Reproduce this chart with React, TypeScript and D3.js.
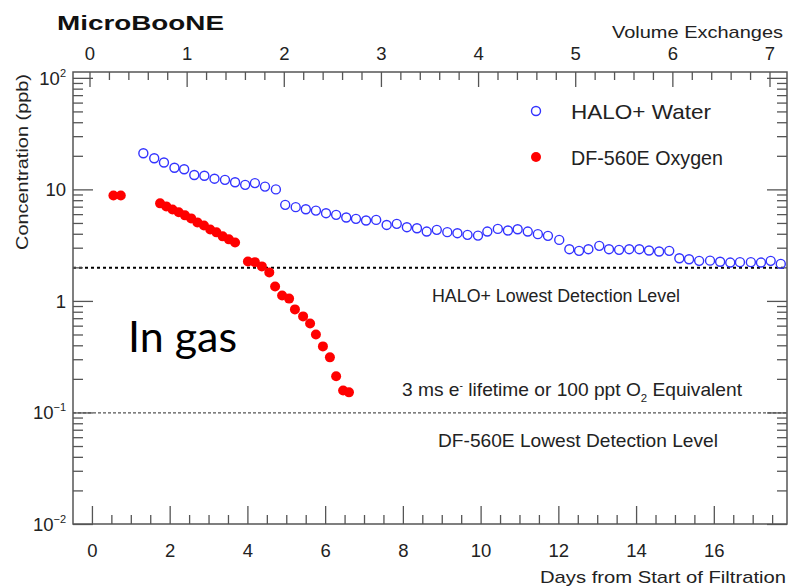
import React from 'react';
import * as d3 from 'd3';

// HALO+ water measurement (ppb) vs days from start of filtration
const haloDays = [
  1.31, 1.59, 1.84, 2.11, 2.36, 2.62, 2.88, 3.14, 3.41, 3.67, 3.93, 4.18, 4.44, 4.72,
  4.96, 5.23, 5.49, 5.75, 6.01, 6.27, 6.53, 6.78, 7.04, 7.3, 7.57, 7.83, 8.09, 8.35, 8.6, 8.86,
  9.13, 9.39, 9.65, 9.92, 10.16, 10.43, 10.69, 10.94, 11.2, 11.46, 11.72, 12.01, 12.27, 12.52,
  12.76, 13.04, 13.29, 13.55, 13.81, 14.07, 14.32, 14.58, 14.84, 15.1, 15.35, 15.61, 15.89,
  16.15, 16.41, 16.66, 16.94, 17.2, 17.45, 17.71,
];
const haloPpb = [
  21.3, 19.2, 17.6, 15.8, 15.3, 13.6, 13.4, 12.6, 12.3, 11.7, 11.1, 11.5, 10.7, 10.1,
  7.34, 7.0, 6.71, 6.52, 6.18, 5.97, 5.65, 5.5, 5.31, 5.38, 4.85, 4.96, 4.63, 4.53, 4.23, 4.38,
  4.18, 4.09, 3.95, 3.89, 4.23, 4.47, 4.32, 4.44, 4.23, 4.01, 3.87, 3.56, 2.94, 2.84,
  2.94, 3.15, 2.94, 2.9, 2.94, 2.94, 2.86, 2.8, 2.84, 2.44, 2.39, 2.31, 2.32,
  2.27, 2.23, 2.25, 2.25, 2.23, 2.31, 2.17,
];

// DF-560E oxygen measurement (ppb)
const dfDays = [
  0.54, 0.73, 1.74, 1.9, 2.06, 2.22, 2.38, 2.54, 2.7, 2.87, 3.03, 3.19, 3.35, 3.51, 3.67,
  4.0, 4.18, 4.36, 4.55, 4.7, 4.88, 5.06, 5.21, 5.42, 5.6, 5.75, 5.93, 6.11, 6.27, 6.45, 6.6,
];
const dfPpb = [
  8.9, 8.9, 7.57, 7.11, 6.68, 6.29, 5.91, 5.55, 5.11, 4.8, 4.42, 4.16, 3.83, 3.6, 3.38,
  2.28, 2.25, 2.06, 1.82, 1.36, 1.13, 1.06, 0.848, 0.734, 0.635, 0.506, 0.395, 0.315, 0.213, 0.159, 0.153,
];

const dayTicks = [0, 2, 4, 6, 8, 10, 12, 14, 16];
const exchangeTicks = [0, 1, 2, 3, 4, 5, 6, 7];
const decadeTicks = [0.01, 0.1, 1, 10, 100];
const decadeLabels = [['10', '\u22122'], ['10', '\u22121'], ['1', ''], ['10', ''], ['10', '2']];

const haloLimit = 2; // ppb
const dfLimit = 0.1; // ppb

const FONT = '"Liberation Sans", Arial, Helvetica, sans-serif';
const INK = '#222';
const AXIS = '#555';

const L = 73, R = 787, T = 72, B = 524;

const x = d3.scaleLinear().domain([-0.5, 17.87]).range([L, R]);
const xTop = d3.scaleLinear().domain([-0.175, 7.175]).range([L, R]);
const y = d3.scaleLog().domain([0.0101, 114]).range([B, T]);

const minorY: number[] = [];
[0.01, 0.1, 1, 10, 100].forEach(d => {
  for (let k = 2; k <= 9; k++) {
    const v = d * k;
    if (v > y.domain()[0] && v < y.domain()[1]) minorY.push(v);
  }
});
const minorX = d3.range(-0.5, 17.9, 0.5).filter(v => v > -0.5 && v % 2 !== 0);
const minorTop = d3.range(-0.2, 7.2, 0.2).filter(v => v > -0.175 && v < 7.175 && Math.abs(v - Math.round(v)) > 0.01);

export default function App() {
  return (
    <svg width={788} height={587} style={{ position: 'absolute', left: 0, top: 0, background: '#fff' }}
      fontFamily={FONT}>
      <rect x={0} y={0} width={788} height={587} fill="#fff" />

      {/* detection-level lines */}
      <line x1={L} x2={R} y1={y(haloLimit)} y2={y(haloLimit)} stroke="#000" strokeWidth={2} strokeDasharray="3,3" />
      <line x1={L} x2={R} y1={y(dfLimit)} y2={y(dfLimit)} stroke="#555" strokeWidth={1.2} strokeDasharray="3,2" />

      {/* frame */}
      <rect x={L} y={T} width={R - L} height={B - T} fill="none" stroke={AXIS} strokeWidth={1.5} />

      {/* left / right ticks */}
      {decadeTicks.map(v => (
        <g key={'yd' + v}>
          <line x1={L} x2={L + 20} y1={y(v)} y2={y(v)} stroke={AXIS} strokeWidth={1.3} />
          <line x1={R} x2={R - 20} y1={y(v)} y2={y(v)} stroke={AXIS} strokeWidth={1.3} />
        </g>
      ))}
      {minorY.map(v => (
        <g key={'ym' + v}>
          <line x1={L} x2={L + 10} y1={y(v)} y2={y(v)} stroke={AXIS} strokeWidth={1.3} />
          <line x1={R} x2={R - 10} y1={y(v)} y2={y(v)} stroke={AXIS} strokeWidth={1.3} />
        </g>
      ))}
      {decadeTicks.map((v, i) => (
        <text key={'yl' + v} x={66} y={y(v) + 6.5} textAnchor="end" fontSize={18.5} fill={INK}>
          {decadeLabels[i][0]}
          {decadeLabels[i][1] && <tspan dy={-8} fontSize={11}>{decadeLabels[i][1]}</tspan>}
        </text>
      ))}

      {/* bottom axis */}
      {dayTicks.map(v => (
        <g key={'xd' + v}>
          <line x1={x(v)} x2={x(v)} y1={B} y2={B - 18} stroke={AXIS} strokeWidth={1.3} />
          <text x={x(v)} y={557} textAnchor="middle" fontSize={18.5} fill={INK}>{v}</text>
        </g>
      ))}
      {minorX.map(v => (
        <line key={'xm' + v} x1={x(v)} x2={x(v)} y1={B} y2={B - 9} stroke={AXIS} strokeWidth={1.3} />
      ))}
      <text x={786} y={583} textAnchor="end" fontSize={17} fill={INK} textLength={246} lengthAdjust="spacingAndGlyphs">
        Days from Start of Filtration
      </text>

      {/* top axis: volume exchanges */}
      {exchangeTicks.map(v => (
        <g key={'xt' + v}>
          <line x1={xTop(v)} x2={xTop(v)} y1={T} y2={T + 15} stroke={AXIS} strokeWidth={1.3} />
          <text x={xTop(v)} y={60} textAnchor="middle" fontSize={18.5} fill={INK}>{v}</text>
        </g>
      ))}
      {minorTop.map(v => (
        <line key={'tm' + v} x1={xTop(v)} x2={xTop(v)} y1={T} y2={T + 8} stroke={AXIS} strokeWidth={1.3} />
      ))}
      <text x={783} y={38} textAnchor="end" fontSize={17} fill={INK} textLength={171} lengthAdjust="spacingAndGlyphs">
        Volume Exchanges
      </text>

      {/* y title */}
      <text transform="translate(28,162) rotate(-90)" textAnchor="middle" fontSize={17} fill={INK}
        textLength={176} lengthAdjust="spacingAndGlyphs">
        Concentration (ppb)
      </text>

      {/* title */}
      <text x={57} y={30} fontSize={21} fontWeight="bold" fill="#111" textLength={167} lengthAdjust="spacingAndGlyphs">
        MicroBooNE
      </text>

      {/* annotations */}
      <text x={432} y={302} fontSize={18} fill={INK} textLength={248} lengthAdjust="spacingAndGlyphs">
        HALO+ Lowest Detection Level
      </text>
      <text x={402} y={396} fontSize={18.5} fill={INK} textLength={340} lengthAdjust="spacingAndGlyphs">
        3 ms e<tspan dy={-7} fontSize={10}>-</tspan>
        <tspan dy={7}> lifetime or 100 ppt O</tspan>
        <tspan dy={6} fontSize={11}>2</tspan>
        <tspan dy={-6}> Equivalent</tspan>
      </text>
      <text x={438} y={447} fontSize={19} fill={INK} textLength={280} lengthAdjust="spacingAndGlyphs">
        DF-560E Lowest Detection Level
      </text>
      <text x={128} y={352} fontSize={42} fill="#000" fontFamily='Lato, "Open Sans", sans-serif'
        textLength={109} lengthAdjust="spacingAndGlyphs">In gas</text>

      {/* data */}
      {dfDays.map((d, i) => (
        <circle key={'df' + i} cx={x(d)} cy={y(dfPpb[i])} r={5} fill="#ff0000" />
      ))}
      {haloDays.map((d, i) => (
        <circle key={'h' + i} cx={x(d)} cy={y(haloPpb[i])} r={4.5} fill="none" stroke="#3333ff" strokeWidth={1.4} />
      ))}

      {/* legend */}
      <circle cx={536} cy={111} r={4.5} fill="none" stroke="#3333ff" strokeWidth={1.4} />
      <text x={571} y={119} fontSize={21} fill={INK} textLength={140} lengthAdjust="spacingAndGlyphs">HALO+ Water</text>
      <circle cx={536} cy={157} r={5} fill="#ff0000" />
      <text x={571} y={165} fontSize={21} fill={INK} textLength={152} lengthAdjust="spacingAndGlyphs">DF-560E Oxygen</text>
    </svg>
  );
}
